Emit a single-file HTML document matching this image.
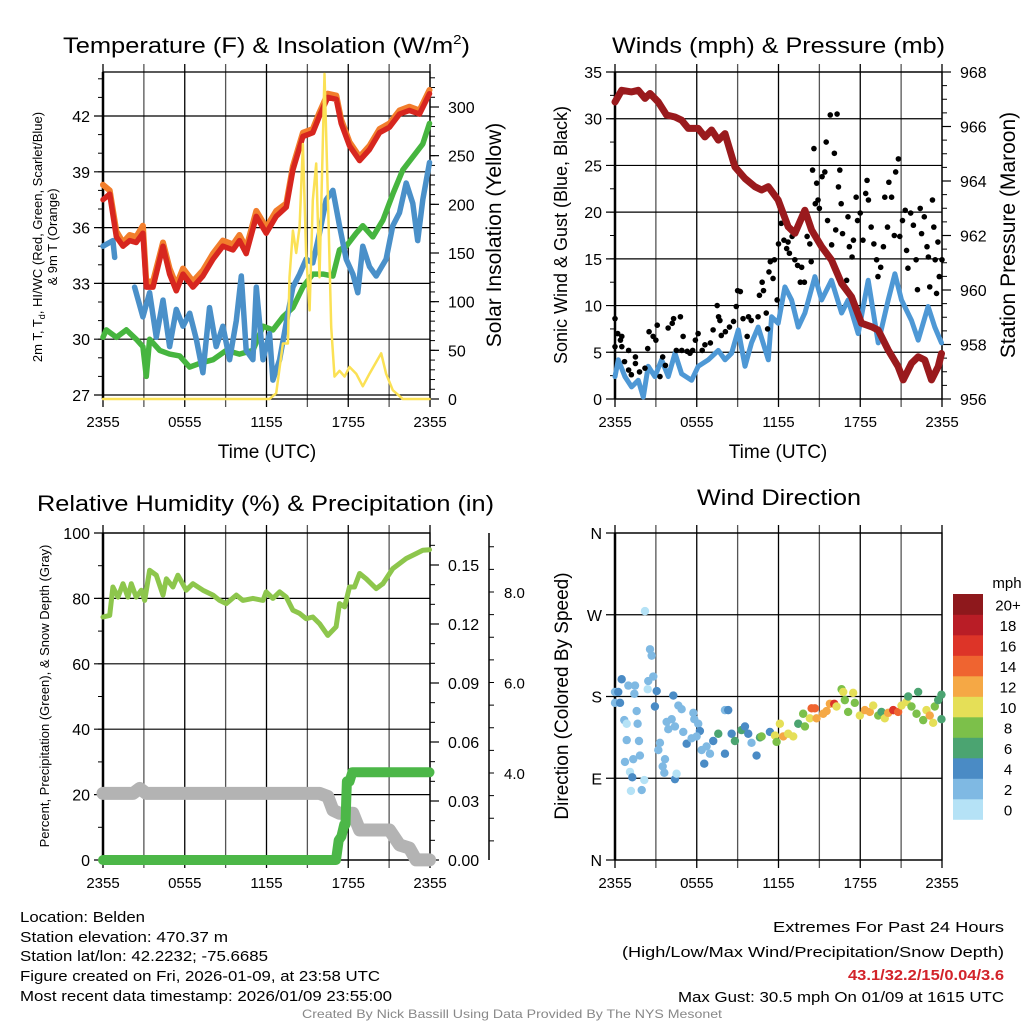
<!DOCTYPE html>
<html><head><meta charset="utf-8"><style>
html,body{margin:0;padding:0;background:#fff}
svg{display:block;font-family:"Liberation Sans",Arial,sans-serif}
</style></head><body>
<svg id="chart" xmlns="http://www.w3.org/2000/svg" width="1024" height="1024" viewBox="0 0 1024 1024">
<rect x="0" y="0" width="1024" height="1024" fill="#fff"/>
<g id="layer"></g>
<g font-size="22" fill="#000">
<text x="63" y="53" textLength="407" lengthAdjust="spacingAndGlyphs">Temperature (F) &amp; Insolation (W/m<tspan font-size="13" dy="-9">2</tspan><tspan dy="9">)</tspan></text>
<text x="612" y="45" textLength="333" lengthAdjust="spacingAndGlyphs" dy="8">Winds (mph) &amp; Pressure (mb)</text>
<text x="37" y="511" textLength="457" lengthAdjust="spacingAndGlyphs">Relative Humidity (%) &amp; Precipitation (in)</text>
<text x="697" y="505" textLength="164" lengthAdjust="spacingAndGlyphs">Wind Direction</text>
</g>
<g font-size="19" fill="#000" text-anchor="middle">
<text x="267" y="458">Time (UTC)</text>
<text x="778" y="458">Time (UTC)</text>
<text transform="translate(501,235) rotate(-90)" font-size="21">Solar Insolation (Yellow)</text>
<text transform="translate(567,235) rotate(-90)" font-size="18">Sonic Wind &amp; Gust (Blue, Black)</text>
<text transform="translate(1015,235) rotate(-90)" font-size="21">Station Pressure (Maroon)</text>
<text transform="translate(568,696) rotate(-90)" font-size="19">Direction (Colored By Speed)</text>
<text transform="translate(49,696) rotate(-90)" font-size="13">Percent, Precipitation (Green), &amp; Snow Depth (Gray)</text>
<text transform="translate(42,237) rotate(-90)" font-size="13">2m T, T<tspan font-size="9" dy="3">d</tspan><tspan dy="-3">, HI/WC (Red, Green, Scarlet/Blue)</tspan></text>
<text transform="translate(57,237) rotate(-90)" font-size="13">&amp; 9m T (Orange)</text>
<text x="1007" y="588" font-size="15">mph</text>
</g>
<g font-size="15" fill="#000">
<text x="20" y="922" textLength="125" lengthAdjust="spacingAndGlyphs">Location: Belden</text>
<text x="20" y="942" textLength="208" lengthAdjust="spacingAndGlyphs">Station elevation: 470.37 m</text>
<text x="20" y="961" textLength="248" lengthAdjust="spacingAndGlyphs">Station lat/lon: 42.2232; -75.6685</text>
<text x="20" y="981" textLength="360" lengthAdjust="spacingAndGlyphs">Figure created on Fri, 2026-01-09, at 23:58 UTC</text>
<text x="20" y="1001" textLength="372" lengthAdjust="spacingAndGlyphs">Most recent data timestamp: 2026/01/09 23:55:00</text>
<text x="773" y="932" textLength="231" lengthAdjust="spacingAndGlyphs">Extremes For Past 24 Hours</text>
<text x="622" y="957" textLength="382" lengthAdjust="spacingAndGlyphs">(High/Low/Max Wind/Precipitation/Snow Depth)</text>
<text x="848" y="980" textLength="156" lengthAdjust="spacingAndGlyphs" font-weight="bold" fill="#d2232a">43.1/32.2/15/0.04/3.6</text>
<text x="678" y="1002" textLength="326" lengthAdjust="spacingAndGlyphs">Max Gust: 30.5 mph On 01/09 at 1615 UTC</text>
<text x="302" y="1018" font-size="12" fill="#888" textLength="420" lengthAdjust="spacingAndGlyphs">Created By Nick Bassill Using Data Provided By The NYS Mesonet</text>
</g>
</svg>
<script>
// ---------- data ----------
const xTickHours = [0, 6, 12, 18, 24];
const xTickLabels = ["2355", "0555", "1155", "1755", "2355"];
// temperature panel
const tempTicks = [27, 30, 33, 36, 39, 42];
const solarTicks = [0, 50, 100, 150, 200, 250, 300];
const redH = [0,0.49,0.98,1.47,1.96,2.44,2.93,3.18,3.67,4.4,4.89,5.38,5.87,6.6,7.33,8.07,8.8,9.54,10.02,10.51,11.25,11.98,12.71,13.45,13.94,14.67,15.4,15.89,16.5,17.12,17.48,18.09,18.83,19.56,20.29,21.03,21.76,22.49,23.23,23.96];
const redT = [37.5,37.8,35.5,35.0,35.3,35.2,35.7,32.8,32.8,35.0,33.5,32.6,33.5,32.8,33.4,34.3,35.0,34.8,35.3,34.6,36.6,35.7,36.6,37.1,39.1,40.9,41.1,42.0,43.0,42.9,41.6,40.4,39.6,40.2,41.1,41.4,42.1,42.3,42.1,43.2];
const orangeT = [38.3,38.0,35.8,35.2,35.6,35.5,36.1,33.1,33.1,35.2,33.8,32.9,33.8,33.1,33.7,34.6,35.3,35.1,35.6,34.9,36.9,36.0,36.9,37.3,39.3,41.1,41.3,42.2,43.2,43.1,41.8,40.6,39.8,40.4,41.3,41.6,42.3,42.5,42.3,43.4];
const greenH = [0,0.24,0.98,1.71,2.44,2.93,3.18,3.42,4.16,4.89,5.62,6.36,7.09,8.07,9.05,10.02,11.0,11.74,12.47,13.2,13.94,14.67,15.4,16.14,16.87,17.36,17.85,18.58,19.07,19.8,20.54,21.27,22.0,22.74,23.47,23.96];
const greenT = [30.1,30.5,30.1,30.5,30.0,29.6,28.0,30.0,29.4,29.2,29.1,28.5,28.7,28.9,29.4,29.2,29.4,30.7,30.5,31.2,31.7,32.8,33.5,33.5,33.4,34.8,35.0,35.7,36.1,35.5,36.4,37.8,39.1,39.8,40.5,41.6];
const blueH = [0,0.73,0.86,null,2.32,2.93,3.42,3.91,4.4,4.89,5.38,5.87,6.36,6.85,7.33,7.82,8.31,8.8,9.29,9.78,10.15,10.51,11.0,11.25,11.74,12.22,12.47,12.96,13.45,13.94,14.43,14.91,15.4,15.89,16.38,16.87,17.36,17.85,18.34,18.7,19.07,19.56,20.05,20.78,21.27,21.76,22.25,22.74,23.1,23.47,23.96];
const blueT = [35.0,35.3,34.4,null,32.8,31.2,32.5,30.1,32.1,29.6,31.6,30.7,31.4,30.0,28.2,31.7,29.6,30.7,28.9,31.0,33.4,29.4,28.9,32.8,28.9,30.3,27.8,28.9,30.9,32.8,33.5,34.3,34.1,35.7,37.5,38.0,36.1,34.3,33.5,32.5,35.0,33.9,33.4,34.3,36.1,36.8,38.4,37.3,35.3,37.5,39.5];
const solarH = [0,12.22,12.71,13.2,13.57,13.69,13.94,14.18,14.43,14.67,14.91,15.16,15.4,15.65,15.89,16.26,16.5,16.75,16.99,17.36,17.73,18.09,18.58,19.07,19.56,20.42,20.78,21.27,22.0,23.96];
const solarW = [0,0,6,57,57,125,173,150,177,262,150,91,204,242,125,334,211,74,23,29,23,33,26,13,26,47,26,9,0,0];
// wind panel
const windTicks = [0, 5, 10, 15, 20, 25, 30, 35];
const presTicks = [956, 958, 960, 962, 964, 966, 968];
const presH = [0,0.49,1.22,1.71,2.2,2.57,3.18,3.79,4.4,4.89,5.38,6.11,6.6,7.09,7.58,8.07,8.8,9.54,10.27,10.76,11.25,11.98,12.71,13.2,13.94,14.43,15.16,15.89,16.63,17.36,18.09,18.83,19.32,20.05,20.78,21.15,21.76,22.25,22.74,23.23,23.72,23.96];
const presMb = [966.9,967.33,967.27,967.33,967.03,967.21,966.9,966.42,966.35,966.23,965.93,965.93,965.62,965.87,965.5,965.74,964.52,964.09,963.79,963.67,963.79,963.3,962.32,962.08,962.93,962.2,961.59,961.1,960.24,959.75,958.78,958.65,958.53,957.8,957.19,956.7,957.31,957.55,957.43,956.7,957.19,957.67];
const windH = [0,0.24,0.73,1.22,1.71,2.08,2.44,2.93,3.42,3.91,4.4,4.89,5.62,6.11,6.85,7.58,8.07,8.56,9.05,9.54,10.02,10.51,11.25,11.49,11.98,12.47,12.96,13.45,13.94,14.67,15.16,15.89,16.63,17.11,17.85,18.58,19.32,20.05,20.54,21.03,21.76,22.25,22.98,23.47,23.96];
const windMph = [2.4,4.2,2.4,1.3,2.0,0.2,3.5,2.4,4.2,2.4,4.9,2.7,2.0,3.5,4.2,5.2,4.2,4.9,7.4,3.5,6.0,7.7,4.2,8.8,8.1,12.0,10.6,7.7,9.2,13.1,10.6,12.7,9.2,10.6,7.0,12.7,6.0,10.6,13.4,10.6,8.4,6.3,9.9,7.7,6.0];
const gustH = [0,0,0.2,0.4,0.5,0.5,0.7,1.0,1.0,1.2,1.5,1.5,1.8,2.2,2.4,2.5,2.8,3.0,3.1,3.3,3.5,3.7,3.9,4.2,4.3,4.5,4.8,4.9,5.0,5.3,5.5,5.7,5.9,6.1,6.4,6.6,7.0,7.2,7.5,7.6,7.7,7.8,8.1,8.4,8.7,8.9,9.0,9.2,9.4,9.7,9.8,10.0,10.5,10.6,10.8,10.9,11.1,11.2,11.3,11.4,11.6,11.7,11.9,12.0,12.1,12.2,12.4,12.6,12.7,12.8,13.0,13.2,13.4,13.6,13.7,13.9,14.1,14.3,14.4,14.5,14.6,14.7,14.8,14.9,15.0,15.2,15.4,15.5,15.6,15.8,15.9,16.1,16.2,16.3,16.4,16.5,16.6,16.7,17.0,17.1,17.2,17.4,17.5,17.7,17.8,18.0,18.2,18.4,18.5,18.6,18.8,19.0,19.2,19.3,19.5,19.7,19.8,20.0,20.1,20.3,20.5,20.6,20.8,20.9,21.1,21.3,21.4,21.5,21.7,21.9,22.1,22.2,22.4,22.5,22.7,22.9,23.0,23.1,23.3,23.4,23.5,23.6,23.7,23.8,24.0];
const gustMph = [5.6,8.6,7.0,6.3,6.7,5.6,4.0,5.2,3.1,2.6,4.5,3.8,2.9,3.3,5.4,7.2,6.7,6.3,7.9,2.4,4.5,3.6,7.6,8.1,8.6,5.2,8.8,5.2,6.7,5.1,4.9,5.2,6.3,7.0,5.2,5.8,6.0,7.4,10.0,8.8,8.4,6.8,7.2,7.7,8.3,9.9,11.6,11.5,8.6,6.7,8.8,8.4,8.8,11.1,12.5,11.6,9.2,7.5,13.6,14.7,12.9,14.9,10.6,16.6,20.6,18.8,17.0,16.1,16.8,15.6,17.4,14.9,14.3,12.5,14.1,12.5,17.4,16.6,14.7,24.5,26.8,20.9,23.1,21.3,20.4,23.8,24.3,27.5,19.1,30.4,16.5,26.3,18.1,30.5,22.7,24.5,20.9,17.7,12.7,19.5,16.3,15.2,17.0,21.6,19.1,19.9,17.0,22.0,23.4,21.3,18.4,16.6,14.9,13.1,14.1,16.3,21.6,18.4,23.2,21.6,17.5,24.3,25.7,17.4,19.1,20.2,15.9,14.0,19.9,18.6,14.9,11.7,20.4,17.7,19.5,16.3,15.2,12.0,21.3,18.4,14.9,11.3,16.8,13.1,14.9];
// humidity panel
const rhTicks = [0, 20, 40, 60, 80, 100];
const precipTicks = [0, 0.03, 0.06, 0.09, 0.12, 0.15];
const precipLabels = ["0.00","0.03","0.06","0.09","0.12","0.15"];
const snowTicks = [4, 6, 8];
const snowLabels = ["4.0","6.0","8.0"];
const rhH = [0,0.49,0.73,1.1,1.47,1.83,2.08,2.44,2.81,3.06,3.42,3.91,4.4,4.65,5.13,5.5,6.11,6.6,7.33,8.07,8.56,9.05,9.78,10.27,11.0,11.74,11.98,12.47,12.96,13.45,13.94,14.43,14.91,15.4,15.89,16.5,17.11,17.36,17.73,18.09,18.46,18.83,19.32,20.05,20.54,21.27,22.25,22.98,23.47,23.96];
const rhPct = [74.3,74.8,83.5,80.4,84.5,80.4,84.5,80.4,82.5,79.4,88.6,87.1,81,86,83.5,87.1,82.5,84.5,82.5,81,79.4,78.4,81,79.4,80,79.4,82,80,82,80.4,76.4,75.4,73.8,74.3,72.3,68.7,71.3,78.4,77.4,83.5,83.5,87.6,86,83,84.5,89.1,92.2,93.7,94.7,94.9];
const precipH = [0,17.1,17.3,17.5,17.7,17.8,17.85,17.9,18.1,18.3,23.96];
const precipIn = [0,0,0.010,0.012,0.018,0.018,0.030,0.040,0.040,0.0446,0.0446];
const snowH = [0,2.2,2.69,3.18,15.89,16.5,16.87,17.36,18.34,18.83,21.03,21.76,22.49,22.98,23.96];
const snowIn = [3.55,3.55,3.66,3.55,3.55,3.48,3.18,3.11,3.11,2.74,2.74,2.41,2.34,2.08,2.08];
// wind direction panel
const dirTicks = [0, 90, 180, 270, 360];
const dirLabels = ["N","E","S","W","N"];
const cbLabels = ["0","2","4","6","8","10","12","14","16","18","20+"];
const cbColors = ["#b5e2f6","#7fb9e3","#4a8bc5","#4ba471","#7cc04a","#e5df57","#f5a845","#ef6430","#dd3428","#b91d26","#8e181c"];
const dirH = [0,0,0.24,0.37,0.49,0.98,1.47,1.42,1.59,0.68,0.86,1.66,0.86,1.76,0.73,1.34,1.83,1.1,1.27,1.17,1.96,2.15,2.2,2.57,2.69,2.81,2.44,2.4,3.06,2.93,3.3,3.18,3.67,3.5,3.62,4.4,4.52,3.79,3.91,4.16,4.4,4.28,4.65,4.89,5.01,5.26,5.75,5.82,6.11,6.23,5.62,5.99,6.36,6.55,6.72,6.97,7.21,7.58,8.07,8.31,8.07,8.56,8.8,9.29,9.54,9.78,10.02,10.39,10.64,10.76,11.37,11.74,11.86,12.1,12.35,12.71,13.08,13.45,13.81,13.94,14.3,14.43,14.67,14.79,15.28,15.53,15.77,16.09,16.26,16.63,16.75,16.87,17.11,17.48,17.6,17.97,18.34,18.7,18.95,19.32,19.56,19.8,20.05,20.42,20.78,21.03,21.39,21.52,21.76,22.13,22.25,22.62,22.86,23.1,23.35,23.47,23.72,23.96,23.96];
const dirDeg = [173,185,185,173,199,192,192,183,164,154,150,150,132,131,108,111,115,97,91,76,77,88,274,232,225,202,197,188,186,169,129,121,111,103,96,89,95,152,144,155,147,181,170,166,141,128,162,155,150,142,134,136,121,106,125,117,131,139,165,165,117,139,131,143,147,139,129,115,135,136,141,137,130,150,136,139,136,150,161,147,156,167,167,156,161,164,172,172,169,188,185,176,163,184,173,159,165,163,170,159,163,156,162,165,163,170,174,180,169,161,185,154,165,159,151,169,176,182,155];
const dirSpd = [2.5,3,4.5,4.5,4.5,3,3,3,3,3,1.5,3,3,3,3,3,3,1.5,4.5,1.5,3,1.5,1,3,3,3,3,1.5,4.5,4.5,3,3,3,3,3,4.5,1.5,3,3,3,3,4.5,3,3,3,4.5,3,3,3,4.5,3,3,3,4.5,3,3,4.5,7,3,4.5,4.5,4.5,7,7,4.5,4.5,3,4.5,7,9,4.5,11,9,11,13,11,11,7,9,9,11,15,15,13,13,13,13,17,11,9,11,9,9,11,9,11,13,13,11,9,7,11,13,17,15,11,11,7,9,9,7,9,11,13,11,9,7,7,7];

// ---------- helpers ----------
const NS = "http://www.w3.org/2000/svg";
const layer = document.getElementById('layer');
function mk(tag, attrs, txt) {
  const e = document.createElementNS(NS, tag);
  for (const k in attrs) e.setAttribute(k, attrs[k]);
  if (txt !== undefined) e.textContent = txt;
  layer.appendChild(e);
  return e;
}
function lin(d0, d1, r0, r1) { return v => r0 + (v - d0) * (r1 - r0) / (d1 - d0); }
function pathD(hs, vs, sx, sy) {
  let d = "", pen = false;
  for (let i = 0; i < hs.length; i++) {
    if (hs[i] === null || vs[i] === null) { pen = false; continue; }
    d += (pen ? "L" : "M") + sx(hs[i]).toFixed(1) + "," + sy(vs[i]).toFixed(1);
    pen = true;
  }
  return d;
}
function drawLine(hs, vs, sx, sy, color, w, name) {
  const p = mk('path', {d: pathD(hs, vs, sx, sy), fill: 'none', stroke: color, 'stroke-width': w, 'stroke-linejoin': 'round', 'stroke-linecap': 'round'});
  
  
}
function panelFrame(x0, x1, y0, y1, prefix, sx) {
  for (let h = 0; h <= 24; h += 3) {
    const x = sx(h);
    const g = mk('line', {x1: x, x2: x, y1: y0 - 8, y2: y1 + 8, stroke: (h % 6 === 0) ? '#000' : '#555', 'stroke-width': 1.3});
    
    
  }
  xTickHours.forEach((h, i) => {
    const t = mk('text', {x: sx(h), y: y1 + 28, 'text-anchor': 'middle', 'font-size': 15}, xTickLabels[i]);
    
    
  });
  const f = mk('rect', {x: x0, y: y0, width: x1 - x0, height: y1 - y0, fill: 'none', stroke: '#000', 'stroke-width': 1.3});
  
  
  const la = mk('line', {x1: x0, x2: x0, y1: y0, y2: y1, stroke: '#000', 'stroke-width': 2.5});
  
  
}
function leftAxis(ticks, labels, sy, x0, x1, prefix, minorStep, lo, hi, grid) {
  if (minorStep) for (let v = lo; v <= hi + 1e-9; v += minorStep) {
    const m = mk('line', {x1: x0 - 5, x2: x0, y1: sy(v), y2: sy(v), stroke: '#000', 'stroke-width': 1});
    
    
  }
  ticks.forEach((v, i) => {
    const y = sy(v);
    const g = mk('line', {x1: x0 - 9, x2: grid ? x1 : x0, y1: y, y2: y, stroke: '#000', 'stroke-width': 1.2});
    
    
    const t = mk('text', {x: x0 - 13, y: y + 6, 'text-anchor': 'end', 'font-size': 16}, labels[i]);
    
    
  });
}
function rightAxis(ticks, labels, sy, x1, prefix, minorStep, lo, hi) {
  if (minorStep) for (let v = lo; v <= hi + 1e-9; v += minorStep) {
    const m = mk('line', {x1: x1, x2: x1 + 5, y1: sy(v), y2: sy(v), stroke: '#000', 'stroke-width': 1});
    
    
  }
  ticks.forEach((v, i) => {
    const y = sy(v);
    const g = mk('line', {x1: x1, x2: x1 + 9, y1: y, y2: y, stroke: '#000', 'stroke-width': 1.2});
    
    
    const t = mk('text', {x: x1 + 18, y: y + 6, 'font-size': 16}, labels[i]);
    
    
  });
}

// ---------- temperature panel ----------
{
  const sx = lin(0, 24, 103, 430), sy = lin(27, 42, 395, 116), ss = lin(0, 300, 399, 107);
  panelFrame(103, 430, 72, 399, 'temp', sx);
  leftAxis(tempTicks, tempTicks.map(String), sy, 103, 430, 'temp-y', 1, 27, 44, true);
  rightAxis(solarTicks, solarTicks.map(String), ss, 430, 'solar-y', 10, 0, 330);
  drawLine(greenH, greenT, sx, sy, '#46b53f', 5.5, 'dewpoint-line');
  drawLine(blueH, blueT, sx, sy, '#4a90c9', 5.5, 'wind-chill-line');
  drawLine(redH, orangeT, sx, sy, '#f27e2c', 6, 'temp-9m-line');
  drawLine(redH, redT, sx, sy, '#d7261f', 5.5, 'temp-2m-line');
  drawLine(solarH, solarW, sx, ss, '#fbe155', 2.5, 'solar-insolation-line');
}
// ---------- wind panel ----------
{
  const sx = lin(0, 24, 615, 942), sy = lin(0, 35, 399, 72), sp = lin(956, 968, 399, 72);
  panelFrame(615, 942, 72, 399, 'wind', sx);
  leftAxis(windTicks, windTicks.map(String), sy, 615, 942, 'wind-y', 2.5, 0, 35, true);
  rightAxis(presTicks, presTicks.map(String), sp, 942, 'pressure-y', 0.5, 956, 968);
  drawLine(windH, windMph, sx, sy, '#4e98d5', 5, 'sonic-wind-line');
  gustH.forEach((h, i) => {
    const c = mk('circle', {cx: sx(h), cy: sy(gustMph[i]), r: 2.8, fill: '#000'});
    
    
  });
  drawLine(presH, presMb, sx, sp, '#9a1a1d', 7, 'station-pressure-line');
}
// ---------- humidity panel ----------
{
  const sx = lin(0, 24, 103, 430), sy = lin(0, 100, 860, 533), sp = lin(0, 0.15, 860, 565), sd = lin(4, 8, 773, 592);
  panelFrame(103, 430, 533, 860, 'rh', sx);
  leftAxis(rhTicks, rhTicks.map(String), sy, 103, 430, 'rh-y', 10, 0, 100, true);
  rightAxis(precipTicks, precipLabels, sp, 430, 'precip-y', 0.01, 0, 0.165);
  const sa = mk('line', {x1: 489, x2: 489, y1: 533, y2: 860, stroke: '#000', 'stroke-width': 1.5});
  
  
  for (let v = 2.5; v <= 9.05; v += 0.5) {
    const m = mk('line', {x1: 489, x2: 494, y1: sd(v), y2: sd(v), stroke: '#000', 'stroke-width': 1});
    
    
  }
  snowTicks.forEach((v, i) => {
    const t = mk('text', {x: 504, y: sd(v) + 6, 'font-size': 15}, snowLabels[i]);
    
    
  });
  drawLine(snowH, snowIn, sx, sd, '#b3b3b3', 13, 'snow-depth-line');
  drawLine(precipH, precipIn, sx, sp, '#4cb748', 10, 'precipitation-line');
  drawLine(rhH, rhPct, sx, sy, '#8dc64c', 5, 'relative-humidity-line');
}
// ---------- wind direction panel ----------
{
  const sx = lin(0, 24, 615, 942), sy = lin(0, 360, 860, 533);
  panelFrame(615, 942, 533, 860, 'dir', sx);
  leftAxis(dirTicks, dirLabels, sy, 615, 942, 'dir-y', 0, 0, 0, true);
  dirH.forEach((h, i) => {
    const b = Math.min(10, Math.floor(dirSpd[i] / 2));
    const c = mk('circle', {cx: sx(h), cy: sy(dirDeg[i]), r: 4.2, fill: cbColors[b]});
    
    
  });
  const top = 594, bh = 20.5;
  cbColors.forEach((col, i) => {
    const y = top + (10 - i) * bh;
    const r = mk('rect', {x: 953, y: y, width: 30, height: bh + 0.3, fill: col});
    
    
    const t = mk('text', {x: 1008, y: y + bh / 2 + 6, 'text-anchor': 'middle', 'font-size': 15}, cbLabels[i]);
    
    
  });
}
</script>
</body></html>
